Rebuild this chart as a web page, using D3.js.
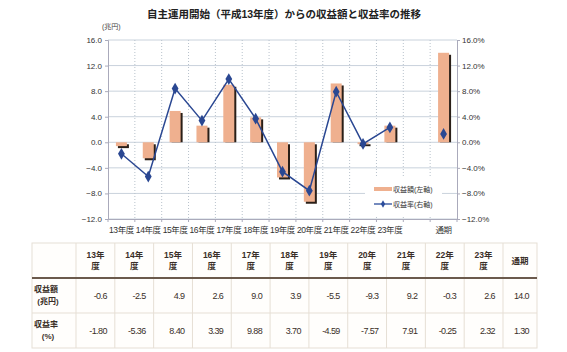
<!DOCTYPE html>
<html>
<head>
<meta charset="utf-8">
<script src="https://cdn.jsdelivr.net/npm/d3@7"></script>
<style>
  body { margin: 0; background: #fff; }
  text { font-family: "Liberation Sans", "Noto Sans CJK JP", sans-serif; }
</style>
</head>
<body>
<div id="chart"></div>
<script>
const years = ["13", "14", "15", "16", "17", "18", "19", "20", "21", "22", "23"];
const categories = years.map(y => y + "年度").concat(["", "通期"]);
const amounts = [-0.6, -2.5, 4.9, 2.6, 9.0, 3.9, -5.5, -9.3, 9.2, -0.3, 2.6, null, 14.0];
const rates = [-1.80, -5.36, 8.40, 3.39, 9.88, 3.70, -4.59, -7.57, 7.91, -0.25, 2.32, null, 1.30];
const leftTicks = [16, 12, 8, 4, 0, -4, -8, -12];
const rightTicks = [16, 12, 8, 4, 0, -4, -8, -12];

const width = 567, height = 352;
const margin = { top: 40, right: 110, bottom: 133, left: 108 };

const svg = d3.select("#chart").append("svg")
  .attr("width", width)
  .attr("height", height);

svg.append("text")
  .attr("x", 284).attr("y", 18)
  .attr("text-anchor", "middle")
  .attr("font-size", 10.5).attr("font-weight", "bold")
  .attr("fill", "#222")
  .text("自主運用開始（平成13年度）からの収益額と収益率の推移");

const x = d3.scaleBand()
  .domain(categories.map((c, i) => i))
  .range([margin.left, width - margin.right]);

const y = d3.scaleLinear()
  .domain([-12, 16])
  .range([height - margin.bottom, margin.top]);

const y2 = d3.scaleLinear()
  .domain([-12, 16])
  .range([height - margin.bottom, margin.top]);

// grid
svg.append("g")
  .selectAll("line")
  .data(leftTicks)
  .join("line")
  .attr("x1", margin.left).attr("x2", width - margin.right)
  .attr("y1", d => y(d)).attr("y2", d => y(d))
  .attr("stroke", "#c9d2dc").attr("stroke-width", 1);

svg.append("g")
  .selectAll("line")
  .data(d3.range(1, categories.length))
  .join("line")
  .attr("x1", d => x(d)).attr("x2", d => x(d))
  .attr("y1", y(16)).attr("y2", y(-12))
  .attr("stroke", "#b8c2cc").attr("stroke-dasharray", "1,2");

// axes
svg.append("g")
  .attr("transform", `translate(${margin.left},0)`)
  .call(d3.axisLeft(y).tickValues(leftTicks).tickFormat(d3.format(".1f")).tickSize(3))
  .call(g => g.select(".domain").attr("stroke", "#aab"))
  .call(g => g.selectAll(".tick line").attr("stroke", "#aab"))
  .call(g => g.selectAll("text").attr("font-size", 8).attr("fill", "#333").attr("x", -6));

svg.append("g")
  .attr("transform", `translate(${width - margin.right},0)`)
  .call(d3.axisRight(y2).tickValues(rightTicks).tickFormat(d => d3.format(".1f")(d) + "%").tickSize(3))
  .call(g => g.select(".domain").attr("stroke", "#aab"))
  .call(g => g.selectAll(".tick line").attr("stroke", "#aab"))
  .call(g => g.selectAll("text").attr("font-size", 8).attr("fill", "#333").attr("x", 5));

svg.append("g")
  .attr("transform", `translate(0,${y(-12)})`)
  .call(d3.axisBottom(x).tickValues([]).tickSizeOuter(0))
  .call(g => g.select(".domain").attr("stroke", "#aab"));

svg.append("g")
  .selectAll("line")
  .data(d3.range(0, categories.length + 1))
  .join("line")
  .attr("x1", d => margin.left + d * x.bandwidth()).attr("x2", d => margin.left + d * x.bandwidth())
  .attr("y1", y(-12)).attr("y2", y(-12) + 3)
  .attr("stroke", "#aab");

svg.append("g")
  .selectAll("text")
  .data(categories)
  .join("text")
  .attr("x", (d, i) => x(i) + x.bandwidth() / 2)
  .attr("y", 233)
  .attr("text-anchor", "middle")
  .attr("font-size", 8.5).attr("fill", "#333")
  .attr("letter-spacing", -0.4)
  .text(d => d);

svg.append("text")
  .attr("x", 102).attr("y", 29)
  .attr("font-size", 7).attr("fill", "#444")
  .text("(兆円)");

// legend box
const lg = svg.append("g");
lg.append("rect").attr("x", 365).attr("y", 176).attr("width", 77).attr("height", 40).attr("fill", "#fff");
lg.append("rect").attr("x", 374).attr("y", 187).attr("width", 18).attr("height", 4).attr("fill", "#efb08f");
lg.append("text").attr("x", 393).attr("y", 192).attr("font-size", 7).attr("fill", "#333").text("収益額(左軸)");
lg.append("line").attr("x1", 374).attr("x2", 392).attr("y1", 204).attr("y2", 204).attr("stroke", "#2b4c9b").attr("stroke-width", 1.3);
lg.append("path").attr("d", d3.symbol(d3.symbolDiamond, 16)()).attr("transform", "translate(383,204)").attr("fill", "#2b4c9b");
lg.append("text").attr("x", 393).attr("y", 207).attr("font-size", 7).attr("fill", "#333").text("収益率(右軸)");

// bars
const bw = 11;
const barData = amounts.map((v, i) => ({ i, v })).filter(d => d.v !== null);
const bars = svg.append("g");
bars.selectAll("rect.shadow")
  .data(barData)
  .join("rect")
  .attr("class", "shadow")
  .attr("x", d => x(d.i) + x.bandwidth() / 2 - bw / 2 + 2)
  .attr("y", d => Math.min(y(d.v), y(0)) + 2)
  .attr("width", bw)
  .attr("height", d => Math.abs(y(d.v) - y(0)) - (d.v > 0 ? 2 : 0))
  .attr("fill", "#2a1f18");
bars.selectAll("rect.bar")
  .data(barData)
  .join("rect")
  .attr("class", "bar")
  .attr("x", d => x(d.i) + x.bandwidth() / 2 - bw / 2)
  .attr("y", d => Math.min(y(d.v), y(0)))
  .attr("width", bw)
  .attr("height", d => Math.abs(y(d.v) - y(0)))
  .attr("fill", "#efb08f");

// line
const rateData = rates.map((v, i) => ({ i, v })).filter(d => d.v !== null);
const lineData = rateData.filter(d => d.i < 11);
svg.append("path")
  .datum(lineData)
  .attr("fill", "none")
  .attr("stroke", "#2a4792")
  .attr("stroke-width", 1.5)
  .attr("d", d3.line().x(d => x(d.i) + x.bandwidth() / 2).y(d => y2(d.v)));
svg.append("g")
  .selectAll("path")
  .data(rateData)
  .join("path")
  .attr("d", d3.symbol(d3.symbolDiamond, 40)())
  .attr("transform", d => `translate(${x(d.i) + x.bandwidth() / 2},${y2(d.v)})`)
  .attr("fill", "#2a4792");

// table
const tLeft = 32, tRight = 537, firstW = 44, lastW = 34;
const colW = (tRight - tLeft - firstW - lastW) / years.length;
const colX = [tLeft, tLeft + firstW].concat(years.map((d, i) => tLeft + firstW + (i + 1) * colW));
const rowY = [243, 278, 313, 348];
const tg = svg.append("g");
tg.append("rect").attr("x", tLeft).attr("y", rowY[0]).attr("width", tRight - tLeft).attr("height", rowY[3] - rowY[0])
  .attr("fill", "#fffefc").attr("stroke", "#e6dfd5");
tg.selectAll("line.v")
  .data(colX.slice(1))
  .join("line")
  .attr("x1", d => d).attr("x2", d => d)
  .attr("y1", rowY[0]).attr("y2", rowY[3])
  .attr("stroke", "#e6dfd5");
tg.append("line").attr("x1", tLeft).attr("x2", tRight).attr("y1", rowY[2]).attr("y2", rowY[2]).attr("stroke", "#e6dfd5");
tg.append("line").attr("x1", tLeft).attr("x2", tRight).attr("y1", rowY[1]).attr("y2", rowY[1]).attr("stroke", "#6b5a4c").attr("stroke-width", 2);

const headers = years.map(y => [y + "年", "度"]).concat([["通期"]]);
const cellX = i => colX[i + 1];
const cellW = i => (i < years.length ? colW : lastW);
headers.forEach((h, i) => {
  const cx = cellX(i) + cellW(i) / 2;
  const t = tg.append("text").attr("text-anchor", "middle").attr("font-size", 8.5).attr("font-weight", "bold").attr("fill", "#3a2f28");
  if (h.length === 2) {
    t.append("tspan").attr("x", cx).attr("y", 258).text(h[0]);
    t.append("tspan").attr("x", cx).attr("y", 269).text(h[1]);
  } else {
    t.attr("x", cx).attr("y", 264).text(h[0]);
  }
});

const rowLabels = [["収益額", "(兆円)"], ["収益率", "(%)"]];
const rowVals = [amounts.filter(v => v !== null).map(v => v.toFixed(1)), rates.filter(v => v !== null).map(v => v.toFixed(2))];
rowLabels.forEach((l, r) => {
  const mid = (rowY[r + 1] + rowY[r + 2]) / 2;
  tg.append("text").attr("x", 46).attr("y", mid - 4).attr("text-anchor", "middle").attr("font-size", 8).attr("font-weight", "bold").attr("fill", "#3a2f28").text(l[0]);
  tg.append("text").attr("x", 48).attr("y", mid + 8).attr("text-anchor", "middle").attr("font-size", 8).attr("font-weight", "bold").attr("fill", "#3a2f28").text(l[1]);
  tg.selectAll(null)
    .data(rowVals[r])
    .join("text")
    .attr("x", (d, i) => cellX(i) + cellW(i) - 8)
    .attr("y", mid + 3)
    .attr("text-anchor", "end")
    .attr("font-size", 9)
    .attr("letter-spacing", -0.6)
    .attr("fill", "#3a2f28")
    .text(d => d);
});
</script>
</body>
</html>
